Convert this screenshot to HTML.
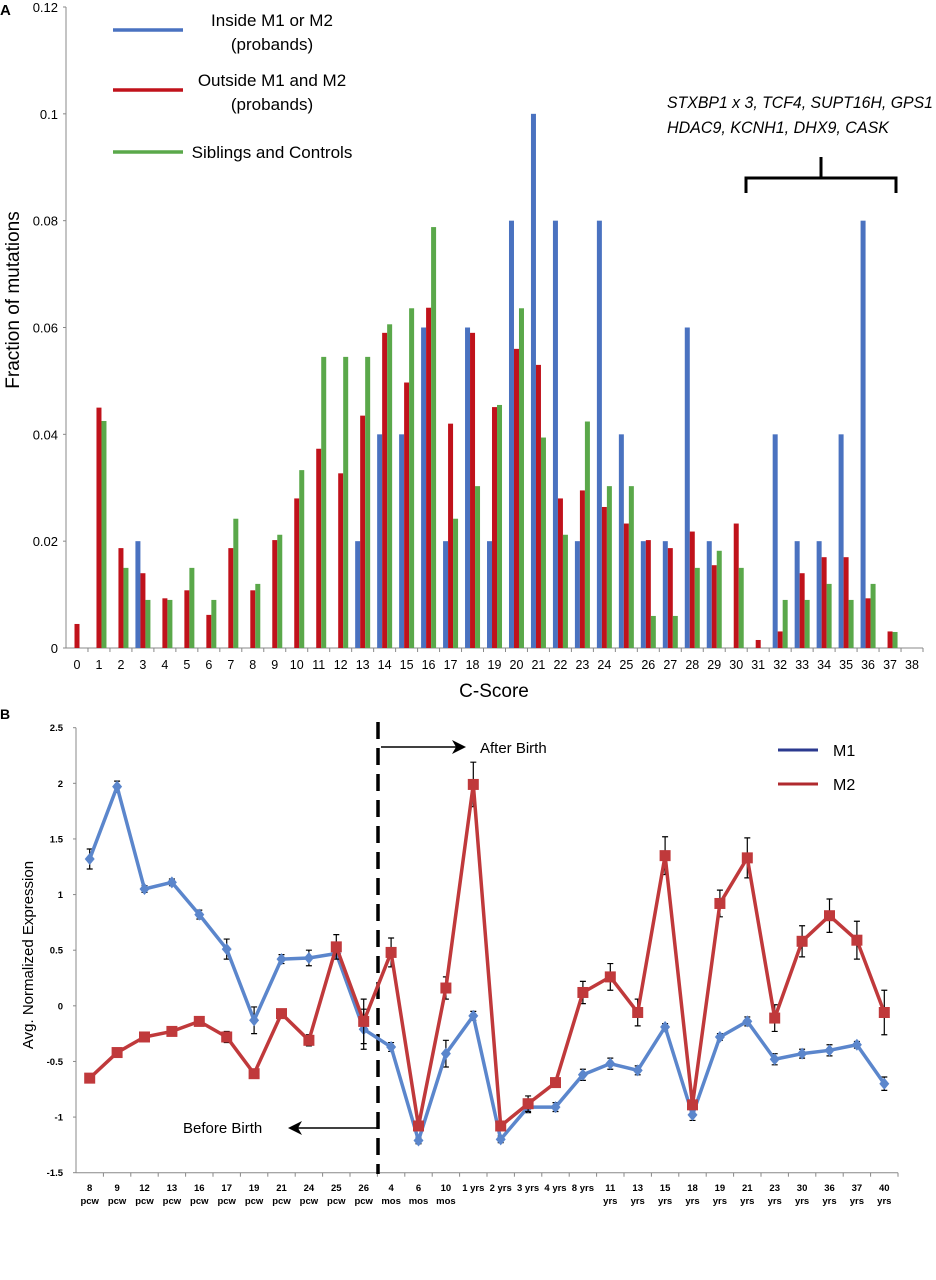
<!DOCTYPE html>
<html><head><meta charset="utf-8"><style>
html,body{margin:0;padding:0;background:#fff;}
svg{display:block;font-family:"Liberation Sans",sans-serif;}
</style></head><body>
<svg id="fig" width="936" height="1280" viewBox="0 0 936 1280">
<g id="panelA"></g>
<g id="panelB"></g>
</svg>
<script>
// ---------- Panel A data ----------
const cScores = ["0","1","2","3","4","5","6","7","8","9","10","11","12","13","14","15","16","17","18","19","20","21","22","23","24","25","26","27","28","29","30","31","32","33","34","35","36","37","38"];
const insideVals = [0,0,0,0.02,0,0,0,0,0,0,0,0,0,0.02,0.04,0.04,0.06,0.02,0.06,0.02,0.08,0.1,0.08,0.02,0.08,0.04,0.02,0.02,0.06,0.02,0,0,0.04,0.02,0.02,0.04,0.08,0,0];
const outsideVals = [0.0045,0.045,0.0187,0.014,0.0093,0.0108,0.0062,0.0187,0.0108,0.0202,0.028,0.0373,0.0327,0.0435,0.059,0.0497,0.0637,0.042,0.059,0.0451,0.056,0.053,0.028,0.0295,0.0264,0.0233,0.0202,0.0187,0.0218,0.0155,0.0233,0.0015,0.0031,0.014,0.017,0.017,0.0093,0.0031,0];
const siblingVals = [0,0.0425,0.015,0.009,0.009,0.015,0.009,0.0242,0.012,0.0212,0.0333,0.0545,0.0545,0.0545,0.0606,0.0636,0.0788,0.0242,0.0303,0.0455,0.0636,0.0394,0.0212,0.0424,0.0303,0.0303,0.006,0.006,0.015,0.0182,0.015,0,0.009,0.009,0.012,0.009,0.012,0.003,0];
const yTicksA = [0,0.02,0.04,0.06,0.08,0.1,0.12];
const yTickLabelsA = ["0","0.02","0.04","0.06","0.08","0.1","0.12"];

// ---------- Panel B data ----------
const stages = [["8","pcw"],["9","pcw"],["12","pcw"],["13","pcw"],["16","pcw"],["17","pcw"],["19","pcw"],["21","pcw"],["24","pcw"],["25","pcw"],["26","pcw"],["4","mos"],["6","mos"],["10","mos"],["1 yrs",""],["2 yrs",""],["3 yrs",""],["4 yrs",""],["8 yrs",""],["11","yrs"],["13","yrs"],["15","yrs"],["18","yrs"],["19","yrs"],["21","yrs"],["23","yrs"],["30","yrs"],["36","yrs"],["37","yrs"],["40","yrs"]];
const m1Vals = [1.32,1.97,1.05,1.11,0.82,0.51,-0.13,0.42,0.43,0.47,-0.21,-0.37,-1.21,-0.43,-0.09,-1.2,-0.91,-0.91,-0.62,-0.52,-0.58,-0.19,-0.98,-0.28,-0.14,-0.48,-0.43,-0.40,-0.35,-0.70];
const m1Err = [0.09,0.05,0.03,0.03,0.04,0.09,0.12,0.04,0.07,0.03,0.18,0.04,0.03,0.12,0.04,0.03,0.05,0.04,0.05,0.05,0.04,0.03,0.05,0.03,0.04,0.05,0.04,0.05,0.03,0.06];
const m2Vals = [-0.65,-0.42,-0.28,-0.23,-0.14,-0.28,-0.61,-0.07,-0.31,0.53,-0.14,0.48,-1.08,0.16,1.99,-1.08,-0.88,-0.69,0.12,0.26,-0.06,1.35,-0.89,0.92,1.33,-0.11,0.58,0.81,0.59,-0.06];
const m2Err = [0.04,0.02,0.03,0.02,0.04,0.05,0.04,0.04,0.05,0.11,0.2,0.13,0.03,0.1,0.2,0.03,0.07,0.04,0.1,0.12,0.12,0.17,0.03,0.12,0.18,0.12,0.14,0.15,0.17,0.2];
const yTicksB = [-1.5,-1,-0.5,0,0.5,1,1.5,2,2.5];
const yTickLabelsB = ["-1.5","-1","-0.5","0","0.5","1","1.5","2","2.5"];

const NS="http://www.w3.org/2000/svg";
function mk(tag,attrs,parent,text){const e=document.createElementNS(NS,tag);for(const k in attrs)e.setAttribute(k,attrs[k]);if(text!==undefined)e.textContent=text;parent.appendChild(e);return e;}

// ---------- Panel A ----------
const A=document.getElementById('panelA');
const ax0=66, ax1=923, ay0=648, ay1=7;
const yA=v=>ay0-(v/0.12)*(ay0-ay1);
const bw=(ax1-ax0)/cScores.length;
const catX=i=>ax0+bw*i;
let t;
t=mk('text',{x:0,y:15,'font-size':15,'font-weight':'bold'},A,'A');

let ln=mk('line',{x1:ax0,y1:ay1,x2:ax0,y2:ay0,stroke:'#888','stroke-width':1},A);

ln=mk('line',{x1:ax0,y1:ay0,x2:ax1,y2:ay0,stroke:'#888','stroke-width':1},A);

yTicksA.forEach((v,i)=>{
  const tk=mk('line',{x1:ax0-3,y1:yA(v),x2:ax0,y2:yA(v),stroke:'#888'},A);
  
  const tl=mk('text',{x:ax0-8,y:yA(v)+5,'font-size':13,'text-anchor':'end'},A,yTickLabelsA[i]);
  
});
const colors=['#4a72c0','#c0121b','#5aa84a'];
const seriesA=[insideVals,outsideVals,siblingVals];
cScores.forEach((c,i)=>{
  const tk=mk('line',{x1:catX(i+1),y1:ay0,x2:catX(i+1),y2:ay0+4,stroke:'#888'},A);
  
  const tl=mk('text',{x:catX(i)+bw/2,y:ay0+21,'font-size':12.5,'text-anchor':'middle'},A,c);
  
  seriesA.forEach((s,k)=>{
    if(s[i]<=0)return;
    const r=mk('rect',{x:catX(i)+3.5+5*k,y:yA(s[i]),width:5,height:ay0-yA(s[i]),fill:colors[k]},A);
    
    
  });
});
t=mk('text',{x:494,y:697,'font-size':19,'text-anchor':'middle'},A,'C-Score');

t=mk('text',{x:0,y:0,'font-size':19,'text-anchor':'middle',transform:'translate(19,300) rotate(-90)'},A,'Fraction of mutations');

// legend A
const legA=[["Inside M1 or M2","(probands)",30],["Outside M1 and M2","(probands)",90],["Siblings and Controls","",152]];
legA.forEach((L,k)=>{
  const l=mk('line',{x1:113,y1:L[2],x2:183,y2:L[2],stroke:colors[k],'stroke-width':3.5},A);
  
  const yy=L[1]?L[2]-4:L[2]+6;
  const a=mk('text',{x:272,y:yy,'font-size':17,'text-anchor':'middle'},A,L[0]);
  
  if(L[1]){const b=mk('text',{x:272,y:yy+24,'font-size':17,'text-anchor':'middle'},A,L[1]);
  }
});
t=mk('text',{x:667,y:108,'font-size':17,'font-style':'italic',textLength:266,lengthAdjust:'spacingAndGlyphs'},A,'STXBP1 x 3,  TCF4,  SUPT16H, GPS1');

t=mk('text',{x:667,y:133,'font-size':17,'font-style':'italic',textLength:222,lengthAdjust:'spacingAndGlyphs'},A,'HDAC9, KCNH1, DHX9, CASK');

let p=mk('path',{d:'M746 193 V178 H896 V193 M821 178 V157',fill:'none',stroke:'#000','stroke-width':3},A);


// ---------- Panel B ----------
const B=document.getElementById('panelB');
const bx0=76, bx1=898, by0=1172.7, by1=727.7;
const yB=v=>by0-(v+1.5)/4*(by0-by1);
const sw=27.4;
const xB=i=>bx0+sw*(i+0.5);
t=mk('text',{x:0,y:719,'font-size':14,'font-weight':'bold'},B,'B');

ln=mk('line',{x1:bx0,y1:by1,x2:bx0,y2:by0,stroke:'#888'},B);

ln=mk('line',{x1:bx0,y1:by0,x2:bx0+sw*stages.length,y2:by0,stroke:'#888'},B);

yTicksB.forEach((v,i)=>{
  const tk=mk('line',{x1:bx0-3,y1:yB(v),x2:bx0,y2:yB(v),stroke:'#888'},B);
  
  const tl=mk('text',{x:bx0-13,y:yB(v)+3.5,'font-size':9.5,'font-weight':'bold','text-anchor':'end'},B,yTickLabelsB[i]);
  
});
stages.forEach((s,i)=>{
  const tk=mk('line',{x1:bx0+sw*(i+1),y1:by0,x2:bx0+sw*(i+1),y2:by0+4,stroke:'#888'},B);
  
  const a=mk('text',{x:xB(i),y:1191,'font-size':9.5,'font-weight':'bold','text-anchor':'middle'},B,s[0]);
  
  if(s[1]){const b=mk('text',{x:xB(i),y:1204,'font-size':9.5,'font-weight':'bold','text-anchor':'middle'},B,s[1]);
  }
});
t=mk('text',{x:0,y:0,'font-size':15,'text-anchor':'middle',transform:'translate(33,955) rotate(-90)'},B,'Avg. Normalized Expression');

// dashed birth line
ln=mk('line',{x1:378,y1:722,x2:378,y2:1174,stroke:'#000','stroke-width':3.5,'stroke-dasharray':'17,9'},B);

ln=mk('line',{x1:381,y1:747,x2:458,y2:747,stroke:'#000','stroke-width':1.5},B);

p=mk('path',{d:'M466 747 L452 740 L456 747 L452 754 Z',fill:'#000'},B);

t=mk('text',{x:480,y:753,'font-size':15},B,'After Birth');

ln=mk('line',{x1:377,y1:1128,x2:296,y2:1128,stroke:'#000','stroke-width':1.5},B);

p=mk('path',{d:'M288 1128 L302 1121 L298 1128 L302 1135 Z',fill:'#000'},B);

t=mk('text',{x:183,y:1133,'font-size':15},B,'Before Birth');

// series
function drawSeries(vals,errs,color,name,marker){
  const g=mk('g',{},B);
  
  vals.forEach((v,i)=>{
    const eb=mk('path',{d:`M${xB(i)} ${yB(v-errs[i])} V${yB(v+errs[i])} M${xB(i)-3} ${yB(v-errs[i])} H${xB(i)+3} M${xB(i)-3} ${yB(v+errs[i])} H${xB(i)+3}`,stroke:'#000','stroke-width':1.2,fill:'none'},g);
    
  });
  const pts=vals.map((v,i)=>xB(i)+','+yB(v)).join(' ');
  const pl=mk('polyline',{points:pts,fill:'none',stroke:color,'stroke-width':3.5,'stroke-linejoin':'round'},g);
  
  vals.forEach((v,i)=>{
    let m;
    if(marker==='diamond') m=mk('path',{d:`M${xB(i)} ${yB(v)-6} L${xB(i)+5} ${yB(v)} L${xB(i)} ${yB(v)+6} L${xB(i)-5} ${yB(v)} Z`,fill:color},g);
    else m=mk('rect',{x:xB(i)-5.5,y:yB(v)-5.5,width:11,height:11,fill:color},g);
    
  });
}
drawSeries(m1Vals,m1Err,'#5b86cc','m1','diamond');
drawSeries(m2Vals,m2Err,'#c0393b','m2','square');
// legend B
ln=mk('line',{x1:778,y1:750,x2:818,y2:750,stroke:'#2b3a8f','stroke-width':3},B);

t=mk('text',{x:833,y:756,'font-size':16},B,'M1');

ln=mk('line',{x1:778,y1:784,x2:818,y2:784,stroke:'#b02a2e','stroke-width':3},B);

t=mk('text',{x:833,y:790,'font-size':16},B,'M2');

</script>
</body></html>
